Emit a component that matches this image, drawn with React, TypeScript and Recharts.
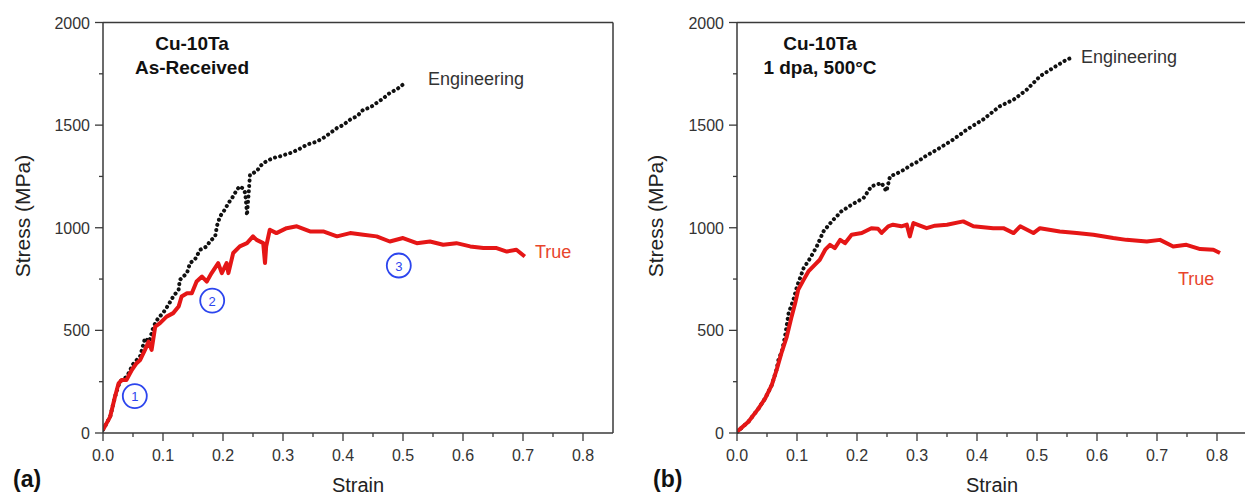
import React from 'react';
import { LineChart, Line, XAxis, YAxis, ReferenceLine, ReferenceDot } from 'recharts';

// strain / stress
const strainTicks = [0, 0.05, 0.1, 0.15, 0.2, 0.25, 0.3, 0.35, 0.4, 0.45, 0.5, 0.55, 0.6, 0.65, 0.7, 0.75, 0.8];
const stressTicks = [0, 250, 500, 750, 1000, 1250, 1500, 1750, 2000];

const engStrainA = [0, 0.012, 0.02, 0.028, 0.04, 0.05, 0.062, 0.07, 0.077, 0.084, 0.092, 0.1, 0.109, 0.117, 0.126, 0.128, 0.14, 0.145, 0.153, 0.162, 0.173, 0.178, 0.187, 0.19, 0.195, 0.203, 0.209, 0.217, 0.223, 0.228, 0.234, 0.237, 0.239, 0.24, 0.245, 0.256, 0.262, 0.267, 0.278, 0.284, 0.295, 0.312, 0.325, 0.34, 0.355, 0.367, 0.378, 0.39, 0.4, 0.412, 0.424, 0.434, 0.445, 0.456, 0.467, 0.478, 0.49, 0.5, 0.503];
const engStressA = [15, 80, 177, 250, 275, 335, 375, 462, 445, 518, 560, 584, 624, 665, 698, 746, 779, 828, 844, 893, 909, 933, 958, 1010, 1055, 1088, 1120, 1153, 1185, 1202, 1190, 1169, 1104, 1060, 1259, 1275, 1299, 1315, 1332, 1340, 1348, 1364, 1380, 1405, 1418, 1437, 1460, 1486, 1500, 1527, 1545, 1576, 1585, 1608, 1630, 1657, 1675, 1698, 1714];

const trueStrainA = [0, 0.012, 0.02, 0.026, 0.031, 0.039, 0.048, 0.056, 0.062, 0.07, 0.076, 0.081, 0.087, 0.095, 0.106, 0.117, 0.126, 0.131, 0.14, 0.148, 0.156, 0.165, 0.173, 0.181, 0.192, 0.198, 0.206, 0.209, 0.217, 0.228, 0.24, 0.25, 0.256, 0.267, 0.27, 0.272, 0.278, 0.289, 0.306, 0.323, 0.345, 0.367, 0.39, 0.412, 0.434, 0.456, 0.478, 0.5, 0.523, 0.545, 0.567, 0.589, 0.612, 0.634, 0.656, 0.673, 0.689, 0.703];
const trueStressA = [15, 80, 177, 242, 258, 258, 307, 340, 356, 405, 445, 405, 518, 535, 567, 584, 616, 665, 681, 681, 738, 762, 738, 779, 828, 779, 828, 779, 877, 909, 925, 958, 941, 925, 828, 910, 990, 974, 998, 1007, 982, 982, 958, 974, 966, 958, 933, 950, 925, 933, 917, 925, 909, 901, 901, 884, 893, 860];

const engStrainB = [0, 0.019, 0.036, 0.047, 0.058, 0.066, 0.069, 0.075, 0.08, 0.086, 0.094, 0.1, 0.111, 0.122, 0.133, 0.144, 0.158, 0.174, 0.191, 0.211, 0.224, 0.241, 0.249, 0.255, 0.274, 0.291, 0.3, 0.315, 0.333, 0.36, 0.383, 0.41, 0.438, 0.461, 0.483, 0.505, 0.527, 0.55, 0.555];
const engStressB = [5, 55, 120, 169, 234, 310, 356, 400, 470, 584, 649, 714, 803, 852, 909, 982, 1031, 1080, 1112, 1145, 1202, 1218, 1177, 1250, 1275, 1307, 1320, 1350, 1380, 1429, 1478, 1527, 1592, 1624, 1673, 1738, 1779, 1820, 1825];

const trueStrainB = [0, 0.019, 0.036, 0.047, 0.058, 0.066, 0.074, 0.083, 0.091, 0.097, 0.102, 0.111, 0.119, 0.13, 0.138, 0.147, 0.155, 0.163, 0.172, 0.18, 0.191, 0.208, 0.224, 0.235, 0.241, 0.252, 0.26, 0.274, 0.283, 0.288, 0.294, 0.316, 0.33, 0.35, 0.377, 0.394, 0.427, 0.444, 0.461, 0.472, 0.494, 0.505, 0.538, 0.566, 0.594, 0.627, 0.649, 0.683, 0.705, 0.727, 0.749, 0.772, 0.794, 0.805];
const trueStressB = [6, 55, 120, 169, 234, 307, 389, 470, 567, 633, 698, 746, 787, 820, 844, 893, 917, 901, 941, 925, 966, 974, 998, 995, 975, 1007, 1015, 1007, 1015, 958, 1023, 998, 1010, 1015, 1031, 1007, 998, 998, 974, 1007, 974, 998, 982, 974, 966, 950, 941, 933, 941, 909, 917, 896, 893, 877];

const stagesA = [
  { n: '1', strain: 0.053, stress: 180 },
  { n: '2', strain: 0.182, stress: 645 },
  { n: '3', strain: 0.493, stress: 816 },
];

const zip = (xs: number[], ys: number[]) => xs.map((x, i) => ({ strain: x, stress: ys[i] }));

const FONT = '"Liberation Sans", Arial, sans-serif';
const AXIS = '#3a3a3a';
const RED = '#e51616';
const BLUE = '#2c45ee';

const XTick = (props: any) => {
  const { x, y, payload } = props;
  const v = payload.value as number;
  const major = Math.round(v * 100) % 10 === 0;
  return (
    <g>
      <line x1={x} x2={x} y1={y} y2={y + (major ? 8 : 4)} stroke={AXIS} strokeWidth={1.3} />
      {major && (
        <text x={x} y={y + 28} textAnchor="middle" fontSize={16} fill="#333" fontFamily={FONT}>
          {v.toFixed(1)}
        </text>
      )}
    </g>
  );
};

const YTick = (props: any) => {
  const { x, y, payload } = props;
  const v = payload.value as number;
  const major = v % 500 === 0;
  return (
    <g>
      <line x1={x} x2={x - (major ? 8 : 4)} y1={y} y2={y} stroke={AXIS} strokeWidth={1.3} />
      {major && (
        <text x={x - 13} y={y + 6} textAnchor="end" fontSize={16} fill="#333" fontFamily={FONT}>
          {v}
        </text>
      )}
    </g>
  );
};

const Panel = ({ eng, tru, width, left, right, stages }: any) => (
  <LineChart width={width} height={495} margin={{ top: 22.5, right, left, bottom: 22 }}>
    <XAxis
      dataKey="strain"
      type="number"
      domain={[0, 0.85]}
      ticks={strainTicks}
      interval={0}
      height={40}
      tickSize={0}
      tickMargin={0}
      tickLine={false}
      tick={<XTick />}
      stroke={AXIS}
      strokeWidth={1.5}
      allowDataOverflow
    />
    <YAxis
      dataKey="stress"
      type="number"
      domain={[0, 2000]}
      ticks={stressTicks}
      interval={0}
      width={60}
      tickSize={0}
      tickMargin={0}
      tickLine={false}
      tick={<YTick />}
      stroke={AXIS}
      strokeWidth={1.5}
    />
    <ReferenceLine y={2000} stroke={AXIS} strokeWidth={1.5} />
    <ReferenceLine x={0.85} stroke={AXIS} strokeWidth={1.5} />
    <Line
      data={eng}
      dataKey="stress"
      type="linear"
      stroke="#111"
      strokeWidth={4}
      strokeDasharray="0.1 5.2"
      strokeLinecap="round"
      dot={false}
      isAnimationActive={false}
    />
    <Line
      data={tru}
      dataKey="stress"
      type="linear"
      stroke={RED}
      strokeWidth={4}
      strokeLinejoin="round"
      dot={false}
      isAnimationActive={false}
    />
    {stages.map((s: any) => (
      <ReferenceDot
        key={s.n}
        x={s.strain}
        y={s.stress}
        r={12}
        shape={(p: any) => (
          <g>
            <circle cx={p.cx} cy={p.cy} r={12} fill="none" stroke={BLUE} strokeWidth={1.8} />
            <text x={p.cx} y={p.cy + 5} textAnchor="middle" fontSize={13} fill={BLUE} fontFamily={FONT}>
              {s.n}
            </text>
          </g>
        )}
      />
    ))}
  </LineChart>
);

const txt = { fontFamily: FONT } as const;

export default function App() {
  return (
    <div style={{ position: 'absolute', left: 0, top: 0, width: 1245, height: 495, overflow: 'hidden', background: '#fff' }}>
      <div style={{ position: 'absolute', left: 0, top: 0 }}>
        <Panel
          eng={zip(engStrainA, engStressA)}
          tru={zip(trueStrainA, trueStressA)}
          width={625}
          left={43}
          right={12}
          stages={stagesA}
        />
      </div>
      <div style={{ position: 'absolute', left: 620, top: 0 }}>
        <Panel
          eng={zip(engStrainB, engStressB)}
          tru={zip(trueStrainB, trueStressB)}
          width={640}
          left={57}
          right={13}
          stages={[]}
        />
      </div>
      <svg width={1245} height={495} style={{ position: 'absolute', left: 0, top: 0, pointerEvents: 'none' }}>
        <g style={txt}>
          <text x={192} y={50} textAnchor="middle" fontSize={19} fontWeight="bold" fill="#111">Cu-10Ta</text>
          <text x={192} y={74} textAnchor="middle" fontSize={19} fontWeight="bold" fill="#111">As-Received</text>
          <text x={820} y={50} textAnchor="middle" fontSize={19} fontWeight="bold" fill="#111">Cu-10Ta</text>
          <text x={820} y={74} textAnchor="middle" fontSize={19} fontWeight="bold" fill="#111">1 dpa, 500°C</text>

          <text x={428} y={85} fontSize={18} fill="#333">Engineering</text>
          <text x={535} y={258} fontSize={18} fill="#e8452c">True</text>
          <text x={1081} y={63} fontSize={18} fill="#333">Engineering</text>
          <text x={1178} y={285} fontSize={18} fill="#e8452c">True</text>

          <text x={358} y={492} textAnchor="middle" fontSize={20} fill="#222">Strain</text>
          <text x={992} y={492} textAnchor="middle" fontSize={20} fill="#222">Strain</text>
          <text x={30} y={216} textAnchor="middle" fontSize={21} fill="#222" transform="rotate(-90 30 216)">Stress (MPa)</text>
          <text x={663} y={216} textAnchor="middle" fontSize={21} fill="#222" transform="rotate(-90 663 216)">Stress (MPa)</text>

          <text x={13} y={487} fontSize={23} fontWeight="bold" fill="#111">(a)</text>
          <text x={653} y={487} fontSize={23} fontWeight="bold" fill="#111">(b)</text>
        </g>
      </svg>
    </div>
  );
}
